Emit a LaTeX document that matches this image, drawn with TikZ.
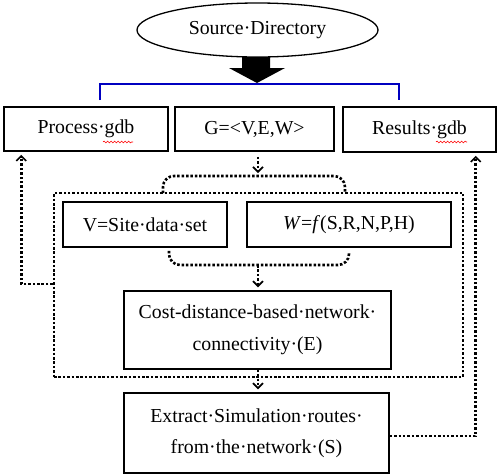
\documentclass[tikz,border=0pt]{standalone}
\usepackage{fontspec}
\setmainfont{Liberation Serif}
\usetikzlibrary{arrows.meta,shapes.geometric,decorations.pathmorphing}
\definecolor{bracketblue}{RGB}{0,0,192}
\tikzset{
	box/.style={draw, line width=1.5pt, inner sep=0pt, align=center},
	dots/.style={line width=2.6pt, dash pattern=on 2.5pt off 1.9pt},
	flow/.style={dots, shorten >=3pt, -{Straight Barb[length=5pt,width=10pt,line width=1.6pt]}},
	wavy/.style={red, line width=0.6pt, decorate, decoration={snake, amplitude=0.9pt, segment length=3.5pt}}
}

\begin{document}
\begin{tikzpicture}[x=1pt, y=-1pt, font=\fontsize{19.8}{31.5}\selectfont]
	\useasboundingbox (0,0) rectangle (498,475);
	\node[draw, ellipse, line width=1.3pt, inner sep=0pt, minimum width=241pt, minimum height=54pt] (src) at (257.5,30) {Source·Directory};
	\fill (242,57) -- (270,57) -- (270,68) -- (285,68) -- (257,83) -- (229,68) -- (242,68) -- cycle;
	\draw[bracketblue, line width=1.8pt] (100,100) -- (100,84) -- (399,84) -- (399,100);
	\node[box, minimum width=164pt, minimum height=44pt] (proc) at (86,129) {Process·gdb};
	\node[box, minimum width=159pt, minimum height=44pt] (graph) at (254.5,129) {G=<V,E,W>};
	\node[box, minimum width=153pt, minimum height=45pt] (res) at (419.5,129.5) {Results·gdb};
	\draw[wavy] (103,142) -- (133,142);
	\draw[wavy] (436,142) -- (467,142);
	\node[draw, dots, minimum width=409pt, minimum height=184pt, inner sep=0pt] (net) at (258.5,285) {};
	\coordinate (top) at (258,176);
	\coordinate (bot) at (258,265);
	\node[box, minimum width=164pt, minimum height=45pt] (site) at (145,224.5) {V=Site·data·set};
	\node[box, minimum width=204pt, minimum height=45pt] (wfun) at (349,224.5) {\textit{W}=\textit{f}(S,R,N,P,H)};
	\node[box, minimum width=267pt, minimum height=78pt] (cost) at (257.5,330) {Cost-distance-based·network·\\connectivity·(E)};
	\node[box, minimum width=265pt, minimum height=80pt] (route) at (256.5,433) {Extract·Simulation·routes·\\from·the·network·(S)};
	\draw[dots, rounded corners=11pt] (163,193) |- (top) -| (345,193);
	\draw[dots, rounded corners=11pt] ([xshift=24pt,yshift=-3pt]site.south) |- (bot) -| ([yshift=-4pt]wfun.south);
	\draw[flow] ([yshift=-5pt]graph.south -| top) -- (top);
	\draw[flow] (bot) -- (cost.north -| bot);
	\draw[flow] (cost.south -| bot) -- (route.north -| bot);
	\draw[flow] (net.west |- 0,284) -| ([xshift=18pt]proc.south west);
	\draw[flow] ([yshift=-3pt]route.east) -| ([xshift=-21pt]res.south east);
\end{tikzpicture}
\end{document}
